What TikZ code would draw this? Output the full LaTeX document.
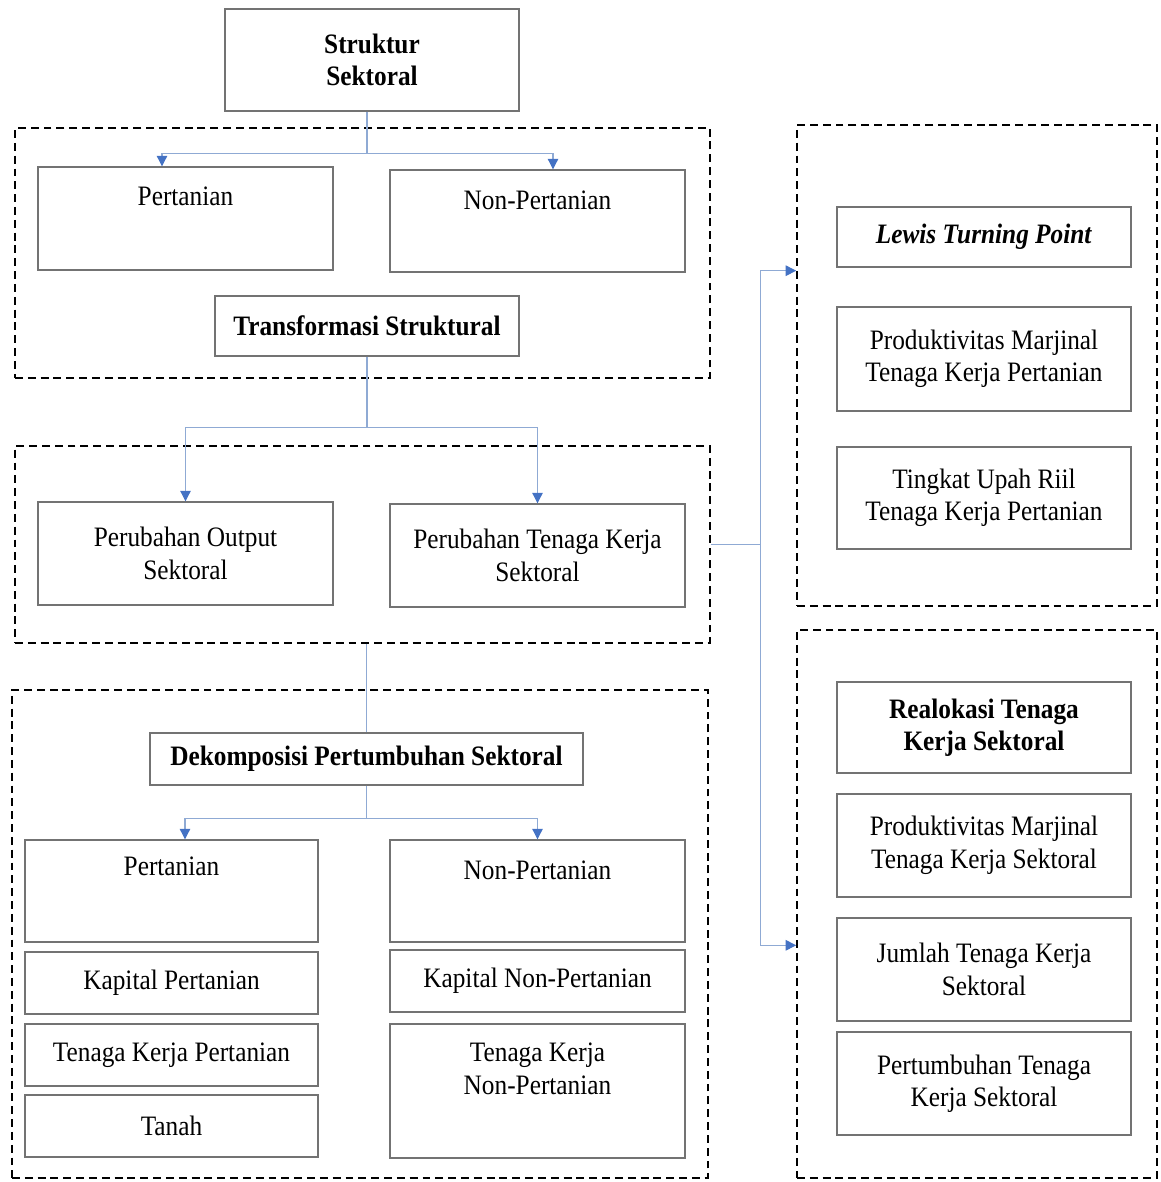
\documentclass[tikz,border=0pt]{standalone}
\usepackage{fontspec}
\setmainfont{Liberation Serif}[FakeStretch=0.9]
\usetikzlibrary{arrows.meta,positioning}
\definecolor{linkblue}{RGB}{143,170,212}
\definecolor{tipblue}{RGB}{68,114,196}

\begin{document}
\begin{tikzpicture}[
  every node/.style={font=\fontsize{16}{18.5}\selectfont},
  box/.style={draw=black!55, line width=0.8pt, align=center, inner sep=0pt},
  group/.style={draw=black, line width=0.9pt, dash pattern=on 4.5pt off 2.8pt, inner sep=0pt},
  every label/.style={anchor=north, inner sep=0pt, align=center},
  link/.style={linkblue, line width=0.6pt},
  arrow/.style={link, -{Triangle[width=6pt,length=6pt,color=tipblue]}}
]
\useasboundingbox (0,0) rectangle (23.2,-23.64);

\node [group, minimum width=13.9cm, minimum height=5cm] (grp1) at (7.25,-5.06) {};
\node [group, minimum width=13.9cm, minimum height=3.94cm] (grp2) at (7.25,-10.89) {};
\node [group, minimum width=13.92cm, minimum height=9.76cm] (grp3) at (7.2,-18.68) {};
\node [group, minimum width=7.2cm, minimum height=9.62cm] (grpA) at (19.54,-7.31) {};
\node [group, minimum width=7.2cm, minimum height=10.96cm] (grpB) at (19.54,-18.08) {};

\node [box, minimum width=5.88cm, minimum height=2.04cm] (st) at (7.44,-1.2) {\textbf{Struktur}\\\textbf{Sektoral}};

\node [box, minimum width=5.9cm, minimum height=2.06cm, label={[yshift=-0.41cm]north:Pertanian}] (pt1) at (3.71,-4.37) {};
\node [box, minimum width=5.9cm, minimum height=2.04cm, label={[yshift=-0.43cm]north:Non-Pertanian}] (np1) at (10.75,-4.42) {};
\node [box, minimum width=6.08cm, minimum height=1.2cm] (tr) at (7.34,-6.52) {\textbf{Transformasi Struktural}};

\node [box, minimum width=5.9cm, minimum height=2.06cm] (po) at (3.71,-11.07) {Perubahan Output\\Sektoral};
\node [box, minimum width=5.9cm, minimum height=2.06cm] (ptk) at (10.75,-11.11) {Perubahan Tenaga Kerja\\Sektoral};

\node [box, minimum width=8.66cm, minimum height=1.04cm] (dek) at (7.33,-15.18) {\textbf{Dekomposisi Pertumbuhan Sektoral}};

\node [box, minimum width=5.86cm, minimum height=2.04cm, label={[yshift=-0.35cm]north:Pertanian}] (pt2) at (3.43,-17.82) {};
\node [box, minimum width=5.86cm, minimum height=1.24cm] (kp) at (3.43,-19.66) {Kapital Pertanian};
\node [box, minimum width=5.86cm, minimum height=1.24cm] (tkp) at (3.43,-21.1) {Tenaga Kerja Pertanian};
\node [box, minimum width=5.86cm, minimum height=1.24cm] (tn) at (3.43,-22.52) {Tanah};

\node [box, minimum width=5.9cm, minimum height=2.04cm, label={[yshift=-0.43cm]north:Non-Pertanian}] (np2) at (10.75,-17.82) {};
\node [box, minimum width=5.9cm, minimum height=1.24cm] (knp) at (10.75,-19.62) {Kapital Non-Pertanian};
\node [box, minimum width=5.9cm, minimum height=2.68cm, label={[yshift=-0.39cm]north:Tenaga Kerja\\Non-Pertanian}] (tknp) at (10.75,-21.82) {};

\node [box, minimum width=5.88cm, minimum height=1.2cm] (lw) at (19.68,-4.74) {\textbf{\textit{Lewis Turning Point}}};
\node [box, minimum width=5.88cm, minimum height=2.08cm] (pma) at (19.68,-7.18) {Produktivitas Marjinal\\Tenaga Kerja Pertanian};
\node [box, minimum width=5.88cm, minimum height=2.04cm] (up) at (19.68,-9.96) {Tingkat Upah Riil\\Tenaga Kerja Pertanian};

\node [box, minimum width=5.88cm, minimum height=1.82cm] (rl) at (19.68,-14.55) {\textbf{Realokasi Tenaga}\\\textbf{Kerja Sektoral}};
\node [box, minimum width=5.88cm, minimum height=2.06cm] (pms) at (19.68,-16.91) {Produktivitas Marjinal\\Tenaga Kerja Sektoral};
\node [box, minimum width=5.88cm, minimum height=2.06cm] (jml) at (19.68,-19.39) {Jumlah Tenaga Kerja\\Sektoral};
\node [box, minimum width=5.88cm, minimum height=2.06cm] (ptb) at (19.68,-21.67) {Pertumbuhan Tenaga\\Kerja Sektoral};

\draw [link] (st.south -| tr.north) -- ++(0,-0.84) coordinate (s1);
\draw [arrow] (s1) -| ([xshift=-0.47cm]pt1.north);
\draw [arrow] (s1) -| ([xshift=0.31cm]np1.north);

\draw [link] (tr.south) -- ++(0,-1.42) coordinate (s2);
\draw [arrow] (s2) -| (po.north);
\draw [arrow] (s2) -| (ptk.north);

\draw [link] (grp2.south -| dek.north) -- (dek.north);
\draw [link] (dek.south) -- ++(0,-0.66) coordinate (s3);
\draw [arrow] (s3) -| ([xshift=0.27cm]pt2.north);
\draw [arrow] (s3) -| (np2.north);

\draw [link] (grp2.east) -- ++(1,0) coordinate (s4);
\draw [arrow] (s4) |- ([yshift=-0.06cm]grpA.west |- lw.south);
\draw [arrow] (s4) |- ([yshift=-0.56cm]grpB.west |- jml.north);

\end{tikzpicture}
\end{document}
